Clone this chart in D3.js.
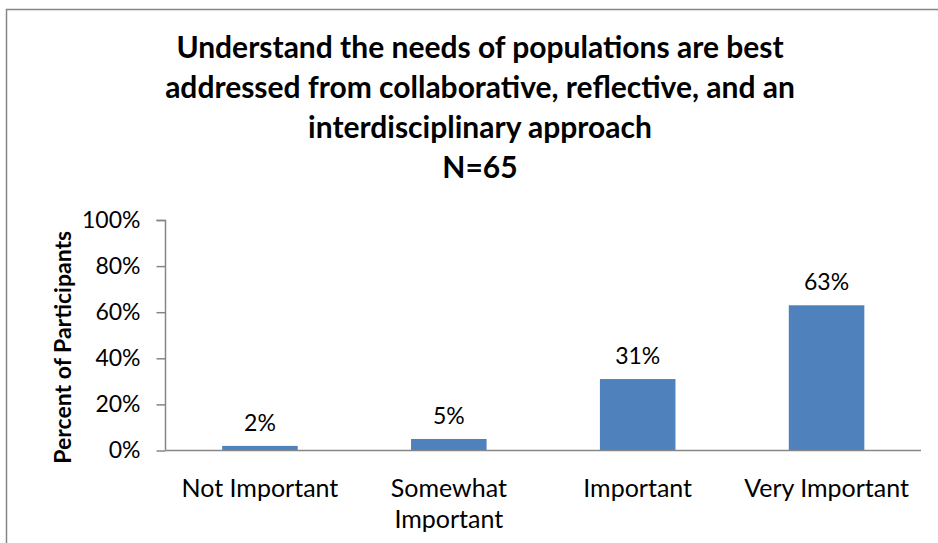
<!DOCTYPE html>
<html>
<head>
<meta charset="utf-8">
<script src="https://cdn.jsdelivr.net/npm/d3@7"></script>
<style>
  html, body { margin: 0; padding: 0; background: #fff; }
  svg { display: block; }
  text { font-family: Lato, "Open Sans", sans-serif; fill: #000; }
</style>
</head>
<body>
<svg id="chart" width="938" height="543"></svg>
<script>
// Survey responses (percent of 65 participants)
const categories = ["Not Important", "Somewhat Important", "Important", "Very Important"];
const categoryLines = [["Not Important"], ["Somewhat", "Important"], ["Important"], ["Very Important"]];
const values = [2, 5, 31, 63];
const yTicks = [0, 20, 40, 60, 80, 100];
const titleLines = [
  "Understand the needs of populations are best",
  "addressed from collaborative, reflective, and an",
  "interdisciplinary approach",
  "N=65"
];
const yAxisTitle = "Percent of Participants";

const svg = d3.select("#chart");
const axisColor = "#868686";
const barColor = "#4F81BD";

// outer chart frame
svg.append("rect")
  .attr("x", 6.5).attr("y", 9.5)
  .attr("width", 945).attr("height", 545)
  .attr("fill", "none")
  .attr("stroke", axisColor)
  .attr("stroke-width", 1.5);

const plot = { left: 165.5, right: 921, top: 220, bottom: 450.5 };

const x = d3.scaleBand()
  .domain(categories)
  .range([plot.left, plot.right])
  .paddingInner(0.6)
  .paddingOuter(0.3);

const y = d3.scaleLinear()
  .domain([0, 100])
  .range([plot.bottom, plot.top]);

// title
const title = svg.append("text")
  .attr("text-anchor", "middle")
  .style("font-weight", "bold")
  .style("font-size", "30px");
titleLines.forEach((line, i) => {
  title.append("tspan")
    .attr("x", 480)
    .attr("y", 58 + i * 40)
    .text(line);
});

// bars
svg.append("g").selectAll("rect")
  .data(values)
  .join("rect")
  .attr("x", (d, i) => x(categories[i]))
  .attr("width", x.bandwidth())
  .attr("y", d => y(d))
  .attr("height", d => y(0) - y(d))
  .attr("fill", barColor);

// value labels
svg.append("g").selectAll("text")
  .data(values)
  .join("text")
  .attr("x", (d, i) => x(categories[i]) + x.bandwidth() / 2)
  .attr("y", d => y(d) - 15)
  .attr("text-anchor", "middle")
  .style("font-size", "23px")
  .text(d => d + "%");

// y axis
const yAxis = svg.append("g")
  .attr("transform", `translate(${plot.left},0)`)
  .call(d3.axisLeft(y)
    .tickValues(yTicks)
    .tickSize(9)
    .tickPadding(16)
    .tickFormat(d => d + "%"));
yAxis.select(".domain")
  .attr("d", `M-9,${plot.top + 0.5}H0V${plot.bottom}`)
  .attr("stroke", axisColor).attr("stroke-width", 1.5);
yAxis.selectAll(".tick line").attr("stroke", axisColor).attr("stroke-width", 1.5);
yAxis.selectAll(".tick text")
  .style("font-family", "Lato, 'Open Sans', sans-serif")
  .style("font-size", "23px")
  .attr("fill", "#000");

// x axis
const xAxis = svg.append("g")
  .attr("transform", `translate(0,${plot.bottom})`)
  .call(d3.axisBottom(x).tickSize(0).tickFormat(""));
xAxis.select(".domain")
  .attr("d", `M${plot.left},0H${plot.right}`)
  .attr("stroke", axisColor).attr("stroke-width", 1.5);

const xLabels = svg.append("g");
categories.forEach((c, i) => {
  const t = xLabels.append("text")
    .attr("text-anchor", "middle")
    .style("font-size", "25px");
  categoryLines[i].forEach((line, j) => {
    t.append("tspan")
      .attr("x", x(c) + x.bandwidth() / 2)
      .attr("y", 497 + j * 31)
      .text(line);
  });
});

// y axis title
svg.append("text")
  .attr("transform", `translate(71,${(plot.top + plot.bottom) / 2 + 12}) rotate(-90)`)
  .attr("text-anchor", "middle")
  .style("font-weight", "bold")
  .style("font-size", "23px")
  .text(yAxisTitle);
</script>
</body>
</html>
